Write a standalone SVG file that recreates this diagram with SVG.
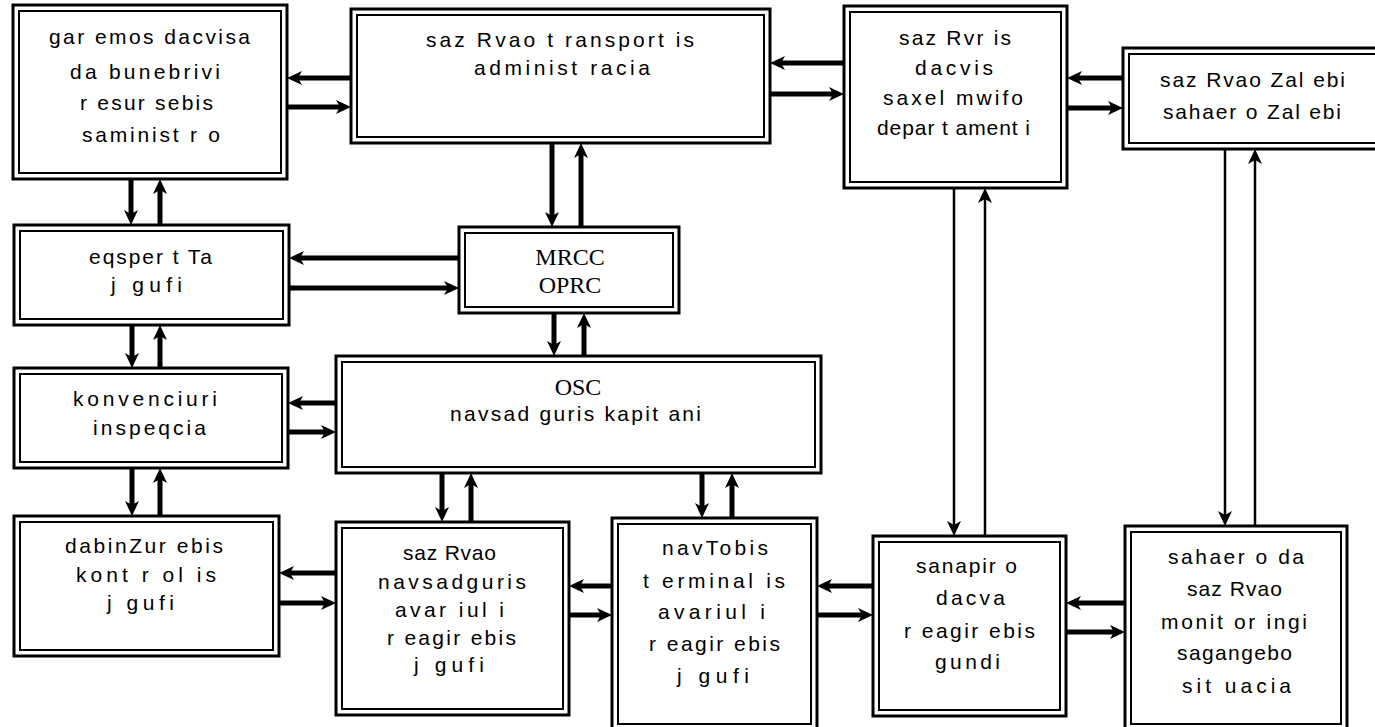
<svg xmlns="http://www.w3.org/2000/svg" width="1375" height="727" viewBox="0 0 1375 727">
<style>
.o{fill:#fff;stroke:#000;stroke-width:3}
.i{fill:none;stroke:#000;stroke-width:2}
.t{font-family:"Liberation Sans Narrow","Liberation Sans",Arial,sans-serif;font-size:21px;fill:#000}
.s{font-family:"Liberation Serif","Times New Roman",serif;font-size:24px;fill:#000;text-anchor:middle}
.a{stroke:#000;stroke-width:5;fill:none;marker-end:url(#ah)}
.l{stroke-width:2.5}
</style>
<defs>
<marker id="ah" markerUnits="userSpaceOnUse" markerWidth="16" markerHeight="14" refX="4" refY="7" orient="auto" viewBox="0 0 16 14"><path d="M0,0 L15,7 L0,14 L4,7 z" fill="#000"/></marker>
</defs>
<rect width="1375" height="727" fill="#fff"/>
<g id="n1"><rect class="o" x="13" y="5" width="274" height="174"/><rect class="i" x="19" y="11" width="262" height="162"/>
<text class="t" x="49" y="44" textLength="201" lengthAdjust="spacing">gar emos dacvisa</text>
<text class="t" x="70" y="79" textLength="150" lengthAdjust="spacing">da bunebrivi</text>
<text class="t" x="80" y="110" textLength="133" lengthAdjust="spacing">r esur sebis</text>
<text class="t" x="82" y="142" textLength="138" lengthAdjust="spacing">saminist r o</text></g>
<g id="n2"><rect class="o" x="351" y="9" width="419" height="134"/><rect class="i" x="357" y="15" width="407" height="122"/>
<text class="t" x="426" y="47" textLength="268" lengthAdjust="spacing">saz Rvao t ransport is</text>
<text class="t" x="474" y="75" textLength="176" lengthAdjust="spacing">administ racia</text></g>
<g id="n3"><rect class="o" x="844" y="6" width="223" height="182"/><rect class="i" x="850" y="12" width="211" height="170"/>
<text class="t" x="899" y="45" textLength="112" lengthAdjust="spacing">saz Rvr is</text>
<text class="t" x="915" y="75" textLength="78" lengthAdjust="spacing">dacvis</text>
<text class="t" x="883" y="105" textLength="140" lengthAdjust="spacing">saxel mwifo</text>
<text class="t" x="877" y="135" textLength="153" lengthAdjust="spacing">depar t ament i</text></g>
<g id="n4"><rect class="o" x="1123" y="48" width="262" height="101"/><rect class="i" x="1129" y="54" width="250" height="89"/>
<text class="t" x="1160" y="87" textLength="185" lengthAdjust="spacing">saz Rvao Zal ebi</text>
<text class="t" x="1163" y="119" textLength="178" lengthAdjust="spacing">sahaer o Zal ebi</text></g>
<g id="n5"><rect class="o" x="14" y="225" width="275" height="100"/><rect class="i" x="20" y="231" width="263" height="88"/>
<text class="t" x="89" y="264" textLength="123" lengthAdjust="spacing">eqsper t Ta</text>
<text class="t" x="111" y="292" textLength="71" lengthAdjust="spacing">j gufi</text></g>
<g id="n6"><rect class="o" x="459" y="227" width="220" height="86"/><rect class="i" x="465" y="233" width="208" height="74"/>
<text class="s" x="570" y="265">MRCC</text>
<text class="s" x="570" y="293">OPRC</text></g>
<g id="n7"><rect class="o" x="14" y="368" width="274" height="100"/><rect class="i" x="20" y="374" width="262" height="88"/>
<text class="t" x="73" y="406" textLength="144" lengthAdjust="spacing">konvenciuri</text>
<text class="t" x="93" y="435" textLength="113" lengthAdjust="spacing">inspeqcia</text></g>
<g id="n8"><rect class="o" x="336" y="356" width="485" height="117"/><rect class="i" x="342" y="362" width="473" height="105"/>
<text class="s" x="578" y="395">OSC</text>
<text class="t" x="450" y="421" textLength="251" lengthAdjust="spacing">navsad guris kapit ani</text></g>
<g id="n9"><rect class="o" x="14" y="516" width="265" height="140"/><rect class="i" x="20" y="522" width="253" height="128"/>
<text class="t" x="65" y="553" textLength="158" lengthAdjust="spacing">dabinZur ebis</text>
<text class="t" x="76" y="582" textLength="140" lengthAdjust="spacing">kont r ol is</text>
<text class="t" x="107" y="610" textLength="67" lengthAdjust="spacing">j gufi</text></g>
<g id="n10"><rect class="o" x="336" y="522" width="233" height="193"/><rect class="i" x="342" y="528" width="221" height="181"/>
<text class="t" x="403" y="560" textLength="93" lengthAdjust="spacing">saz Rvao</text>
<text class="t" x="378" y="589" textLength="148" lengthAdjust="spacing">navsadguris</text>
<text class="t" x="395" y="617" textLength="109" lengthAdjust="spacing">avar iul i</text>
<text class="t" x="387" y="645" textLength="129" lengthAdjust="spacing">r eagir ebis</text>
<text class="t" x="414" y="672" textLength="70" lengthAdjust="spacing">j gufi</text></g>
<g id="n11"><rect class="o" x="612" y="518" width="205" height="212"/><rect class="i" x="618" y="524" width="193" height="200"/>
<text class="t" x="662" y="555" textLength="106" lengthAdjust="spacing">navTobis</text>
<text class="t" x="643" y="588" textLength="142" lengthAdjust="spacing">t erminal is</text>
<text class="t" x="658" y="619" textLength="107" lengthAdjust="spacing">avariul i</text>
<text class="t" x="649" y="651" textLength="131" lengthAdjust="spacing">r eagir ebis</text>
<text class="t" x="677" y="683" textLength="72" lengthAdjust="spacing">j gufi</text></g>
<g id="n12"><rect class="o" x="873" y="536" width="193" height="180"/><rect class="i" x="879" y="542" width="181" height="168"/>
<text class="t" x="916" y="573" textLength="101" lengthAdjust="spacing">sanapir o</text>
<text class="t" x="936" y="605" textLength="69" lengthAdjust="spacing">dacva</text>
<text class="t" x="904" y="638" textLength="131" lengthAdjust="spacing">r eagir ebis</text>
<text class="t" x="935" y="669" textLength="65" lengthAdjust="spacing">gundi</text></g>
<g id="n13"><rect class="o" x="1125" y="526" width="222" height="204"/><rect class="i" x="1131" y="532" width="210" height="192"/>
<text class="t" x="1168" y="564" textLength="136" lengthAdjust="spacing">sahaer o da</text>
<text class="t" x="1187" y="596" textLength="95" lengthAdjust="spacing">saz Rvao</text>
<text class="t" x="1161" y="629" textLength="146" lengthAdjust="spacing">monit or ingi</text>
<text class="t" x="1177" y="660" textLength="115" lengthAdjust="spacing">sagangebo</text>
<text class="t" x="1182" y="693" textLength="109" lengthAdjust="spacing">sit uacia</text></g>
<g id="connectors">
<line class="a" x1="351" y1="78" x2="298" y2="78"/>
<line class="a" x1="287" y1="107" x2="340" y2="107"/>
<line class="a" x1="844" y1="63" x2="781" y2="63"/>
<line class="a" x1="770" y1="94" x2="833" y2="94"/>
<line class="a" x1="1123" y1="78" x2="1078" y2="78"/>
<line class="a" x1="1067" y1="108" x2="1112" y2="108"/>
<line class="a" x1="131" y1="179" x2="131" y2="214"/>
<line class="a" x1="160" y1="225" x2="160" y2="190"/>
<line class="a" x1="552" y1="143" x2="552" y2="216"/>
<line class="a" x1="581" y1="227" x2="581" y2="154"/>
<line class="a" x1="459" y1="258" x2="300" y2="258"/>
<line class="a" x1="289" y1="288" x2="448" y2="288"/>
<line class="a" x1="132" y1="325" x2="132" y2="357"/>
<line class="a" x1="160" y1="368" x2="160" y2="336"/>
<line class="a" x1="554" y1="313" x2="554" y2="345"/>
<line class="a" x1="584" y1="356" x2="584" y2="324"/>
<line class="a" x1="336" y1="403" x2="299" y2="403"/>
<line class="a" x1="288" y1="432" x2="325" y2="432"/>
<line class="a" x1="132" y1="468" x2="132" y2="505"/>
<line class="a" x1="160" y1="516" x2="160" y2="479"/>
<line class="a" x1="442" y1="473" x2="442" y2="511"/>
<line class="a" x1="471" y1="522" x2="471" y2="484"/>
<line class="a" x1="702" y1="473" x2="702" y2="507"/>
<line class="a" x1="732" y1="518" x2="732" y2="484"/>
<line class="a" x1="336" y1="573" x2="290" y2="573"/>
<line class="a" x1="279" y1="603" x2="325" y2="603"/>
<line class="a" x1="612" y1="586" x2="580" y2="586"/>
<line class="a" x1="569" y1="615" x2="601" y2="615"/>
<line class="a" x1="873" y1="586" x2="828" y2="586"/>
<line class="a" x1="817" y1="615" x2="862" y2="615"/>
<line class="a" x1="1125" y1="603" x2="1077" y2="603"/>
<line class="a" x1="1066" y1="632" x2="1114" y2="632"/>
<line class="a l" x1="954" y1="188" x2="954" y2="525"/>
<line class="a l" x1="985" y1="536" x2="985" y2="199"/>
<line class="a l" x1="1225" y1="149" x2="1225" y2="515"/>
<line class="a l" x1="1255" y1="526" x2="1255" y2="160"/>
</g>
</svg>
